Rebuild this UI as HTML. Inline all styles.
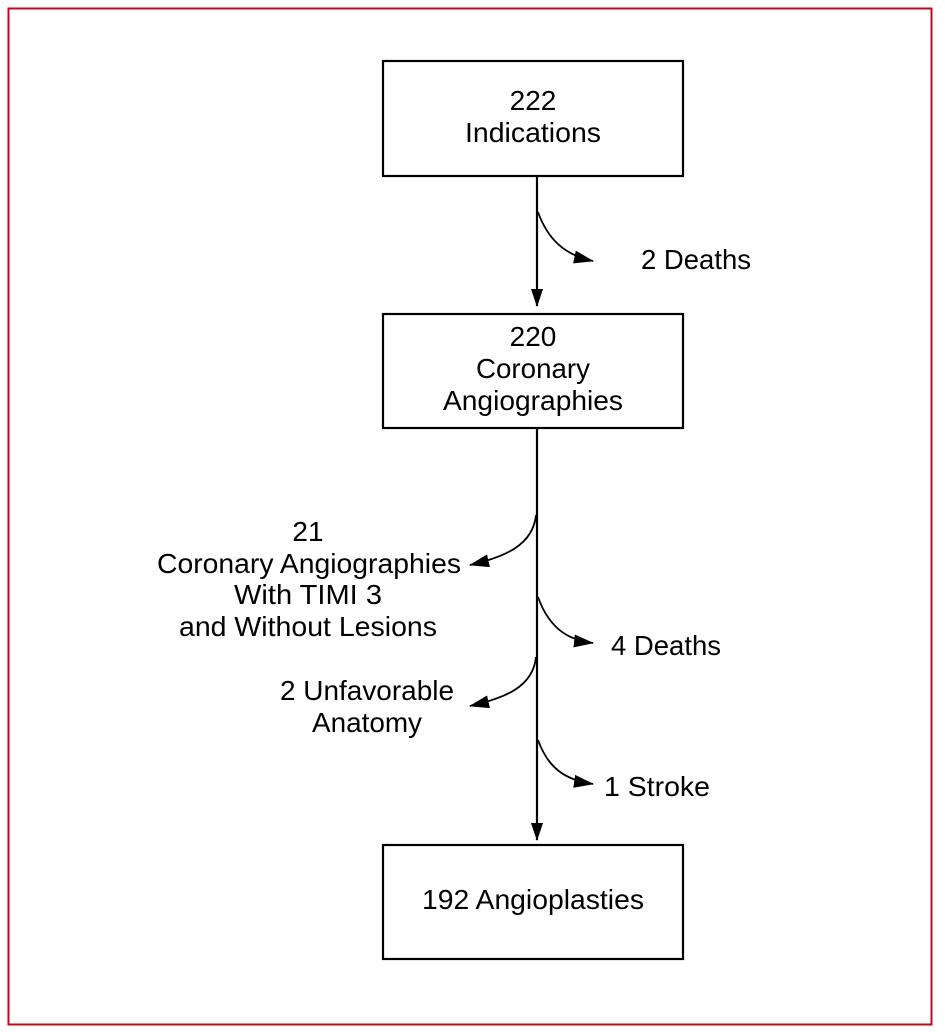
<!DOCTYPE html>
<html><head><meta charset="utf-8"><style>body{margin:0;background:#fff}svg{display:block}</style></head>
<body>
<svg width="945" height="1032" viewBox="0 0 945 1032" xmlns="http://www.w3.org/2000/svg">
<defs>
<marker id="b" markerWidth="18" markerHeight="12" refX="17" refY="6" orient="auto" markerUnits="userSpaceOnUse" viewBox="0 0 18 12"><path d="M0,0 L18,6 L0,12 z" fill="#000"/></marker>
<marker id="c" markerWidth="20" markerHeight="13" refX="19" refY="6.5" orient="auto" markerUnits="userSpaceOnUse" viewBox="0 0 20 13"><path d="M0,0 L20,6.5 L0,13 z" fill="#000"/></marker></defs>
<rect x="8.5" y="8.5" width="923" height="1016" fill="none" stroke="#c0081e" stroke-width="2"/>
<g fill="none" stroke="#000" stroke-width="2.2">
<rect x="383" y="61" width="300" height="115"/>
<rect x="383" y="314" width="300" height="114"/>
<rect x="383" y="845" width="300" height="114"/>
<line x1="537" y1="176" x2="537" y2="306" marker-end="url(#b)"/>
<line x1="537" y1="428" x2="537" y2="840" marker-end="url(#b)"/>
<g stroke-width="1.8">
<path d="M538,212 C548,240 565,255 593,261" marker-end="url(#c)"/>
<path d="M536,515 C533,545 505,557 470,565" marker-end="url(#c)"/>
<path d="M538,597 C548,625 565,640 593,643" marker-end="url(#c)"/>
<path d="M536,657 C533,687 505,698 470,706" marker-end="url(#c)"/>
<path d="M538,740 C548,768 565,780 593,784" marker-end="url(#c)"/>
</g></g>
<g font-family="'Liberation Sans Narrow','Liberation Sans',sans-serif" font-size="28" fill="#000" text-anchor="middle" lengthAdjust="spacingAndGlyphs">
<text x="533" y="110">222</text>
<text x="533" y="142" textLength="136" lengthAdjust="spacingAndGlyphs">Indications</text>
<text x="533" y="346">220</text>
<text x="533" y="378" textLength="114" lengthAdjust="spacingAndGlyphs">Coronary</text>
<text x="533" y="410" textLength="180" lengthAdjust="spacingAndGlyphs">Angiographies</text>
<text x="533" y="909" textLength="222" lengthAdjust="spacingAndGlyphs">192 Angioplasties</text>
<text x="308" y="541">21</text>
<text x="309" y="573" textLength="304" lengthAdjust="spacingAndGlyphs">Coronary Angiographies</text>
<text x="308" y="604" textLength="148" lengthAdjust="spacingAndGlyphs">With TIMI 3</text>
<text x="308" y="636" textLength="258" lengthAdjust="spacingAndGlyphs">and Without Lesions</text>
<text x="367" y="700" textLength="174" lengthAdjust="spacingAndGlyphs">2 Unfavorable</text>
<text x="367" y="732" textLength="110" lengthAdjust="spacingAndGlyphs">Anatomy</text>
<g text-anchor="start">
<text x="641" y="269" textLength="110" lengthAdjust="spacingAndGlyphs">2 Deaths</text>
<text x="611" y="655" textLength="110" lengthAdjust="spacingAndGlyphs">4 Deaths</text>
<text x="604" y="796" textLength="106" lengthAdjust="spacingAndGlyphs">1 Stroke</text>
</g></g>
</svg>
</body></html>
